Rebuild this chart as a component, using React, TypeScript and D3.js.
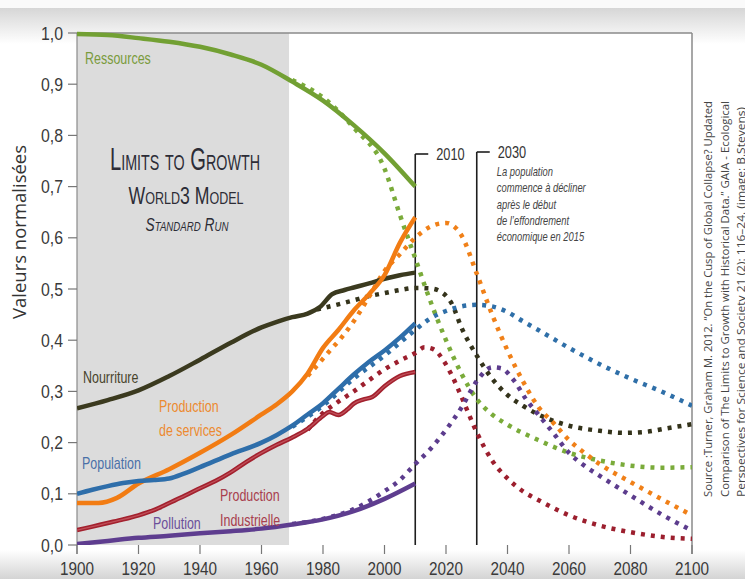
import React from "react";
import * as d3 from "d3";

// ---------- DATA ----------
const xTicks = [1900, 1920, 1940, 1960, 1980, 2000, 2020, 2040, 2060, 2080, 2100];
const yTicks = [0, 0.1, 0.2, 0.3, 0.4, 0.5, 0.6, 0.7, 0.8, 0.9, 1.0];
const yTickLabels = ["0,0", "0,1", "0,2", "0,3", "0,4", "0,5", "0,6", "0,7", "0,8", "0,9", "1,0"];

// historical (solid) series
const resourcesHist: [number, number][] = [
  [1900, 0.998], [1910, 0.996], [1920, 0.99], [1930, 0.983], [1940, 0.973], [1950, 0.958],
  [1960, 0.938], [1970, 0.905], [1980, 0.868], [1990, 0.82], [2000, 0.765], [2010, 0.7],
];
const foodHist: [number, number][] = [
  [1900, 0.267], [1910, 0.283], [1920, 0.302], [1930, 0.33], [1940, 0.362], [1950, 0.395],
  [1960, 0.425], [1965, 0.436], [1970, 0.445], [1975, 0.452], [1979, 0.465], [1983, 0.49],
  [1987, 0.498], [1990, 0.503], [1995, 0.511], [2000, 0.52], [2005, 0.527], [2010, 0.532],
];
const servicesHist: [number, number][] = [
  [1900, 0.082], [1907, 0.082], [1913, 0.092], [1920, 0.12], [1930, 0.148], [1940, 0.18],
  [1950, 0.215], [1960, 0.255], [1965, 0.275], [1970, 0.3], [1975, 0.335], [1980, 0.385],
  [1985, 0.42], [1990, 0.458], [1995, 0.49], [2000, 0.527], [2005, 0.59], [2010, 0.64],
];
const populationHist: [number, number][] = [
  [1900, 0.1], [1905, 0.108], [1910, 0.115], [1915, 0.121], [1920, 0.125], [1925, 0.127],
  [1930, 0.13], [1935, 0.14], [1940, 0.152], [1950, 0.177], [1960, 0.2], [1965, 0.215],
  [1970, 0.233], [1975, 0.255], [1980, 0.277], [1985, 0.305], [1990, 0.333], [1995, 0.358],
  [2000, 0.38], [2005, 0.405], [2010, 0.433],
];
const industryHist: [number, number][] = [
  [1900, 0.029], [1905, 0.036], [1910, 0.043], [1915, 0.05], [1920, 0.058], [1925, 0.068],
  [1930, 0.082], [1935, 0.096], [1940, 0.111], [1945, 0.125], [1950, 0.142], [1955, 0.162],
  [1960, 0.18], [1965, 0.196], [1970, 0.21], [1975, 0.227], [1980, 0.252], [1982, 0.26],
  [1985, 0.254], [1988, 0.265], [1990, 0.276], [1993, 0.284], [1996, 0.289], [2000, 0.31],
  [2005, 0.33], [2010, 0.338],
];
const pollutionHist: [number, number][] = [
  [1900, 0.002], [1910, 0.008], [1920, 0.014], [1930, 0.018], [1940, 0.023], [1950, 0.027],
  [1960, 0.032], [1970, 0.04], [1980, 0.05], [1990, 0.066], [2000, 0.09], [2010, 0.12],
];

// model (dotted) series
const resourcesModel: [number, number][] = [
  [1970, 0.908], [1980, 0.874], [1990, 0.815], [2000, 0.735], [2005, 0.645], [2010, 0.56],
  [2015, 0.475], [2020, 0.4], [2025, 0.335], [2030, 0.285], [2035, 0.255], [2040, 0.235],
  [2050, 0.205], [2060, 0.18], [2070, 0.165], [2080, 0.155], [2090, 0.151], [2100, 0.152],
];
const foodModel: [number, number][] = [
  [1978, 0.46], [1985, 0.47], [1990, 0.478], [1995, 0.486], [2000, 0.492], [2005, 0.498],
  [2010, 0.502], [2015, 0.501], [2019, 0.492], [2022, 0.47], [2025, 0.425], [2030, 0.37],
  [2035, 0.325], [2040, 0.293], [2045, 0.272], [2050, 0.255], [2060, 0.233], [2070, 0.223],
  [2078, 0.219], [2085, 0.221], [2092, 0.228], [2100, 0.236],
];
const servicesModel: [number, number][] = [
  [1975, 0.33], [1978, 0.35], [1982, 0.378], [1986, 0.405], [1990, 0.437], [1995, 0.485],
  [2000, 0.535], [2005, 0.568], [2010, 0.6], [2015, 0.622], [2020, 0.629], [2025, 0.605],
  [2030, 0.53], [2035, 0.45], [2040, 0.38], [2045, 0.32], [2050, 0.27], [2055, 0.238],
  [2060, 0.205], [2065, 0.18], [2070, 0.158], [2080, 0.123], [2090, 0.09], [2100, 0.058],
];
const populationModel: [number, number][] = [
  [1970, 0.231], [1980, 0.272], [1990, 0.325], [2000, 0.37], [2005, 0.395], [2010, 0.42],
  [2015, 0.443], [2020, 0.457], [2025, 0.466], [2030, 0.469], [2035, 0.466], [2040, 0.455],
  [2045, 0.437], [2050, 0.42], [2060, 0.385], [2070, 0.353], [2080, 0.325], [2090, 0.3],
  [2100, 0.272],
];
const industryModel: [number, number][] = [
  [1975, 0.225], [1980, 0.258], [1985, 0.28], [1990, 0.3], [1995, 0.322], [2000, 0.343],
  [2005, 0.36], [2010, 0.375], [2013, 0.386], [2016, 0.382], [2019, 0.362], [2022, 0.33],
  [2025, 0.29], [2030, 0.22], [2035, 0.165], [2040, 0.13], [2045, 0.105], [2050, 0.088],
  [2060, 0.058], [2070, 0.038], [2080, 0.025], [2090, 0.016], [2100, 0.012],
];
const pollutionModel: [number, number][] = [
  [1970, 0.041], [1980, 0.051], [1990, 0.07], [2000, 0.105], [2005, 0.127], [2010, 0.158],
  [2015, 0.188], [2020, 0.225], [2025, 0.268], [2030, 0.32], [2035, 0.347], [2038, 0.345],
  [2042, 0.322], [2046, 0.285], [2050, 0.255], [2055, 0.218], [2060, 0.18], [2065, 0.155],
  [2070, 0.135], [2080, 0.097], [2090, 0.06], [2100, 0.028],
];

const markerYears = [2010, 2030];
const markerLabels = ["2010", "2030"];
const shadeYears = [1900, 1969];
const titleLines = ["Limits to Growth", "World3 Model", "Standard Run"];
const noteLines = [
  "La population",
  "commence à décliner",
  "après le début",
  "de l’effondrement",
  "économique en 2015",
];
const sourceLines = [
  "Source :Turner, Graham M. 2012. “On the Cusp of Global Collapse? Updated",
  "Comparison of The Limits to Growth with Historical Data.” GAIA  - Ecological",
  "Perspectives for Science and Society 21 (2): 116–24. (image: B.Stevens)",
];

// ---------- STYLES ----------
const COND = "'Liberation Sans', 'Noto Sans', sans-serif";
const W = 745, H = 579;

const series = [
  { hist: resourcesHist, model: resourcesModel, color: "#72a033", dot: "#7aab3a" },
  { hist: foodHist, model: foodModel, color: "#3b3a1f", dot: "#34331b" },
  { hist: servicesHist, model: servicesModel, color: "#f27c13", dot: "#f08018" },
  { hist: populationHist, model: populationModel, color: "#2e6eaa", dot: "#2f6fa8" },
  { hist: industryHist, model: industryModel, color: "#a3212e", dot: "#9c1f2e" },
  { hist: pollutionHist, model: pollutionModel, color: "#5e3d8f", dot: "#5c3c8d" },
];

// condensed text: horizontal squeeze
function CT(props: {
  x: number; y: number; sx?: number; fs: number; anchor?: string; fill?: string;
  italic?: boolean; children: React.ReactNode;
}) {
  const { x, y, sx = 0.8, fs, anchor = "start", fill = "#333", italic, children } = props;
  return (
    <text
      transform={`translate(${x},${y}) scale(${sx},1)`}
      textAnchor={anchor}
      fontFamily={COND}
      fontSize={fs}
      fill={fill}
      fontStyle={italic ? "italic" : "normal"}
    >
      {children}
    </text>
  );
}

export default function App() {
  const x = d3.scaleLinear().domain([1900, 2100]).range([77, 692]);
  const y = d3.scaleLinear().domain([0, 1]).range([545, 33]);
  const line = d3
    .line<[number, number]>()
    .x((d) => x(d[0]))
    .y((d) => y(d[1]))
    .curve(d3.curveMonotoneX);

  return (
    <svg width={W} height={H} style={{ position: "absolute", left: 0, top: 0, background: "#fff" }}>
      <defs>
        <linearGradient id="topg" x1="0" y1="0" x2="0" y2="1">
          <stop offset="0" stopColor="#d6d6d6" />
          <stop offset="1" stopColor="#ffffff" />
        </linearGradient>
        <linearGradient id="botg" x1="0" y1="0" x2="0" y2="1">
          <stop offset="0" stopColor="#ffffff" />
          <stop offset="1" stopColor="#d4d4d4" />
        </linearGradient>
        <clipPath id="plotclip">
          <rect x={x(1900)} y={y(1) - 4} width={x(2100) - x(1900)} height={y(0) - y(1) + 4} />
        </clipPath>
      </defs>
      <rect x={0} y={0} width={W} height={8} fill="#fafafa" />
      <rect x={0} y={8} width={W} height={36} fill="url(#topg)" />
      <rect x={0} y={550} width={W} height={29} fill="url(#botg)" />

      {/* shaded model-only period */}
      <rect
        x={x(shadeYears[0])}
        y={y(1)}
        width={x(shadeYears[1]) - x(shadeYears[0])}
        height={y(0) - y(1)}
        fill="#dcdcdc"
      />
      <rect x={x(shadeYears[1])} y={y(1)} width={x(2100) - x(shadeYears[1])} height={y(0) - y(1)} fill="#ffffff" />

      {/* frame */}
      <line x1={x(1900)} x2={x(2100)} y1={y(1)} y2={y(1)} stroke="#8a8a8a" strokeWidth={1.5} />
      <line x1={x(2100)} x2={x(2100)} y1={y(1)} y2={y(0) + 9} stroke="#8a8a8a" strokeWidth={1.5} />
      <line x1={x(1900)} x2={x(1900)} y1={y(1)} y2={y(0) + 9} stroke="#8a8a8a" strokeWidth={1.2} />

      {/* y ticks */}
      {yTicks.map((t, i) => (
        <g key={"yt" + i}>
          <line x1={68} x2={x(1900)} y1={y(t)} y2={y(t)} stroke="#777" strokeWidth={1.2} />
          <CT x={63} y={y(t) + 6.5} sx={0.88} fs={18} anchor="end" fill="#3a3a3a">
            {yTickLabels[i]}
          </CT>
        </g>
      ))}
      {/* x ticks */}
      {xTicks.map((t) => (
        <g key={"xt" + t}>
          <line x1={x(t)} x2={x(t)} y1={y(0)} y2={y(0) + 9} stroke="#777" strokeWidth={1.2} />
          <CT x={x(t)} y={575} sx={0.85} fs={18} anchor="middle" fill="#3a3a3a">
            {t}
          </CT>
        </g>
      ))}

      {/* y axis title */}
      <text
        transform={`translate(26,232) rotate(-90)`}
        textAnchor="middle"
        fontFamily="'Open Sans', sans-serif"
        fontSize={18.5}
        fill="#333"
      >
        Valeurs normalisées
      </text>

      {/* title (small caps) */}
      <g fontFamily={COND} fill="#2c2c36" textAnchor="middle" style={{ fontVariant: "small-caps" }}>
        <text x={185} y={170} fontSize={31} textLength={150} lengthAdjust="spacingAndGlyphs">
          {titleLines[0]}
        </text>
        <text x={186} y={204} fontSize={24} textLength={115} lengthAdjust="spacingAndGlyphs">
          {titleLines[1]}
        </text>
        <text x={187} y={231} fontSize={18.5} fontStyle="italic" textLength={83} lengthAdjust="spacingAndGlyphs">
          {titleLines[2]}
        </text>
      </g>

      {/* markers 2010 / 2030 */}
      {markerYears.map((yr, i) => {
        const top = i === 0 ? 154 : 152;
        return (
          <g key={"m" + yr}>
            <line x1={x(yr)} x2={x(yr)} y1={top} y2={y(0)} stroke="#1e1e1e" strokeWidth={1.6} />
            <line x1={x(yr)} x2={x(yr) + 13} y1={top} y2={top} stroke="#1e1e1e" strokeWidth={1.6} />
            <CT x={x(yr) + 21} y={top + 6} sx={0.8} fs={16} fill="#333">
              {markerLabels[i]}
            </CT>
          </g>
        );
      })}
      {noteLines.map((s, i) => (
        <CT key={"n" + i} x={x(2030) + 20} y={176 + i * 16.3} sx={0.75} fs={12.5} italic fill="#444">
          {s}
        </CT>
      ))}

      {/* curves */}
      <g clipPath="url(#plotclip)">
        {series.map((s, i) => (
          <path
            key={"d" + i}
            d={line(s.model) || ""}
            fill="none"
            stroke={s.dot}
            strokeWidth={4.5}
            strokeDasharray="4 6"
          />
        ))}
        {series.map((s, i) => (
          <path key={"s" + i} d={line(s.hist) || ""} fill="none" stroke={s.color} strokeWidth={4.5} />
        ))}
        <path d={line(industryHist) || ""} fill="none" stroke="#c0505a" strokeWidth={1.3} />
      </g>

      {/* series labels */}
      <CT x={85} y={64} sx={0.78} fs={16} fill="#7a9b3c">Ressources</CT>
      <CT x={83} y={383} sx={0.78} fs={16} fill="#48442c">Nourriture</CT>
      <CT x={159} y={412} sx={0.78} fs={16} fill="#ec8a30">Production</CT>
      <CT x={159} y={436} sx={0.78} fs={16} fill="#ec8a30">de services</CT>
      <CT x={82} y={469} sx={0.78} fs={16} fill="#4a70a8">Population</CT>
      <CT x={220} y={501} sx={0.78} fs={16} fill="#a8404e">Production</CT>
      <CT x={220} y={526} sx={0.78} fs={16} fill="#a8404e">Industrielle</CT>
      <CT x={153} y={529} sx={0.78} fs={16} fill="#6b4f9a">Pollution</CT>

      {/* source */}
      <g fontFamily="'Open Sans', sans-serif" fontSize={11} fill="#444">
        {sourceLines.map((s, i) => (
          <text
            key={"src" + i}
            transform={`translate(${712 + i * 16.5},497) rotate(-90)`}
            textLength={i === 2 ? 390 : 396}
            lengthAdjust="spacingAndGlyphs"
          >
            {s}
          </text>
        ))}
      </g>
    </svg>
  );
}
